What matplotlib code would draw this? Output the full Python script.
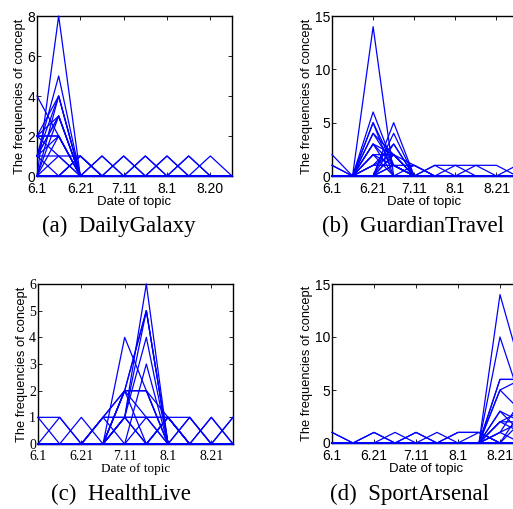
import matplotlib
matplotlib.use('Agg')
import matplotlib.pyplot as plt

SANS = 'Liberation Sans'
SERIF = 'Liberation Serif'
blue = '#0000ff'

tick_pos = [0, 2, 4, 6, 8]
labels_a = ['6.1', '6.21', '7.11', '8.1', '8.20']
labels_b = ['6.1', '6.21', '7.11', '8.1', '8.21']

# each row = one concept, frequency at 10 successive dates
galaxy = [
    [0, 8, 0, 0, 0, 0, 0, 0, 0, 0],
    [1, 5, 0, 0, 0, 0, 0, 0, 0, 0],
    [0, 4, 0, 0, 0, 0, 0, 0, 0, 0],
    [1, 4, 0, 0, 0, 0, 0, 0, 0, 0],
    [2, 4, 0, 0, 0, 0, 0, 0, 0, 0],
    [0, 3, 0, 0, 0, 0, 0, 0, 0, 0],
    [1, 3, 0, 0, 0, 0, 0, 0, 0, 0],
    [2, 3, 0, 0, 0, 0, 0, 0, 0, 0],
    [1, 3, 0, 0, 0, 0, 0, 0, 0, 0],
    [0, 2, 0, 0, 0, 0, 0, 0, 0, 0],
    [1, 2, 0, 0, 0, 0, 0, 0, 0, 0],
    [2, 2, 0, 0, 0, 0, 0, 0, 0, 0],
    [2, 2, 0, 0, 0, 0, 0, 0, 0, 0],
    [4, 2, 0, 0, 0, 0, 0, 0, 0, 0],
    [2, 1, 1, 0, 0, 0, 0, 0, 0, 0],
    [1, 1, 0, 0, 0, 0, 0, 0, 0, 0],
    [0, 1, 0, 0, 0, 0, 0, 0, 0, 0],
    [1, 0, 1, 0, 0, 0, 0, 0, 0, 0],
    [0, 0, 1, 0, 1, 0, 1, 0, 1, 0],
    [0, 0, 0, 1, 0, 1, 0, 1, 0, 0],
    [0, 0, 0, 1, 0, 1, 0, 1, 0, 0],
    [0, 0, 1, 0, 1, 0, 1, 0, 0, 0],
    [0, 0, 0, 0, 0, 0, 0, 0, 0, 0],
]

travel = [
    [2, 0, 0, 0, 0, 0, 0, 0, 0, 0],
    [1, 0, 0, 0, 0, 0, 0, 0, 0, 0],
    [1, 0, 0, 0, 0, 0, 0, 0, 0, 0],
    [0, 0, 14, 0, 0, 0, 0, 0, 0, 0],
    [0, 0, 6, 1, 0, 0, 0, 0, 0, 0],
    [0, 0, 5, 1, 0, 0, 0, 0, 0, 0],
    [0, 0, 5, 0, 0, 0, 0, 0, 0, 0],
    [0, 0, 4, 2, 0, 0, 0, 0, 0, 0],
    [0, 0, 4, 1, 0, 0, 0, 0, 0, 0],
    [0, 0, 3, 2, 0, 0, 0, 0, 0, 0],
    [0, 0, 3, 1, 0, 0, 0, 0, 0, 0],
    [0, 0, 3, 0, 0, 0, 0, 0, 0, 0],
    [0, 0, 2, 1, 0, 0, 0, 0, 0, 0],
    [0, 0, 2, 2, 0, 0, 0, 0, 0, 0],
    [0, 0, 2, 0, 0, 0, 0, 0, 0, 0],
    [0, 0, 1, 2, 0, 0, 0, 0, 0, 0],
    [0, 0, 1, 1, 0, 0, 0, 0, 0, 0],
    [0, 0, 0, 5, 0, 0, 0, 0, 0, 0],
    [0, 0, 0, 4, 0, 0, 0, 0, 0, 0],
    [0, 0, 0, 3, 0, 0, 0, 0, 0, 0],
    [0, 0, 1, 3, 0, 0, 0, 0, 0, 0],
    [0, 0, 0, 2, 0, 0, 0, 0, 0, 0],
    [0, 0, 0, 2, 1, 0, 0, 0, 0, 0],
    [0, 0, 0, 1, 1, 0, 0, 0, 0, 0],
    [0, 0, 0, 0, 1, 0, 1, 1, 0, 1],
    [0, 0, 0, 0, 0, 1, 0, 1, 1, 0],
    [0, 0, 0, 1, 0, 1, 1, 0, 0, 0],
    [0, 0, 0, 0, 0, 0, 0, 0, 0, 0],
]

health = [
    [1, 1, 0, 0, 0, 0, 0, 0, 0, 0],
    [1, 0, 1, 0, 0, 0, 0, 0, 0, 0],
    [0, 1, 0, 0, 0, 0, 0, 0, 0, 0],
    [0, 0, 0, 1, 0, 0, 0, 0, 0, 0],
    [0, 0, 0, 1, 1, 1, 1, 1, 0, 0],
    [0, 0, 0, 0, 4, 2, 0, 0, 0, 0],
    [0, 0, 0, 0, 1, 6, 0, 0, 0, 0],
    [0, 0, 0, 0, 1, 5, 0, 0, 0, 0],
    [0, 0, 0, 0, 2, 5, 0, 0, 0, 0],
    [0, 0, 0, 1, 2, 5, 0, 0, 0, 0],
    [0, 0, 0, 0, 1, 4, 0, 0, 0, 0],
    [0, 0, 0, 0, 0, 3, 0, 0, 0, 0],
    [0, 0, 0, 0, 2, 2, 0, 0, 0, 0],
    [0, 0, 0, 1, 2, 2, 0, 0, 0, 0],
    [0, 0, 0, 0, 2, 2, 1, 0, 0, 0],
    [0, 0, 0, 0, 2, 0, 0, 0, 0, 0],
    [0, 0, 0, 0, 2, 1, 0, 0, 0, 0],
    [0, 0, 0, 0, 1, 1, 0, 0, 0, 0],
    [0, 0, 0, 1, 1, 0, 1, 0, 0, 0],
    [0, 0, 0, 0, 1, 0, 1, 0, 0, 0],
    [0, 0, 0, 0, 0, 1, 1, 0, 0, 0],
    [0, 0, 0, 0, 0, 0, 1, 0, 1, 0],
    [0, 0, 0, 0, 0, 0, 1, 0, 1, 0],
    [0, 0, 0, 0, 0, 0, 0, 1, 0, 1],
    [0, 0, 0, 0, 0, 0, 0, 1, 0, 1],
    [0, 0, 0, 0, 0, 0, 0, 0, 0, 0],
]

arsenal = [
    [1, 0, 0, 0, 0, 0, 0, 0, 0, 0],
    [1, 0, 0, 0, 0, 0, 0, 0, 0, 0],
    [0, 0, 1, 0, 1, 0, 1, 1, 0, 0],
    [0, 0, 1, 0, 1, 0, 1, 1, 0, 0],
    [0, 0, 0, 1, 0, 1, 0, 1, 0, 0],
    [0, 0, 0, 0, 0, 0, 0, 0, 14, 7],
    [0, 0, 0, 0, 0, 0, 0, 0, 10, 4],
    [0, 0, 0, 0, 0, 0, 0, 0, 6, 6],
    [0, 0, 0, 0, 0, 0, 0, 0, 6, 6],
    [0, 0, 0, 0, 0, 0, 0, 0, 5, 6],
    [0, 0, 0, 0, 0, 0, 0, 0, 5, 3],
    [0, 0, 0, 0, 0, 0, 0, 0, 3, 1],
    [0, 0, 0, 0, 0, 0, 0, 0, 3, 2],
    [0, 0, 0, 0, 0, 0, 0, 0, 2, 3],
    [0, 0, 0, 0, 0, 0, 0, 0, 2, 1],
    [0, 0, 0, 0, 0, 0, 0, 0, 2, 2],
    [0, 0, 0, 0, 0, 0, 0, 0, 1, 2],
    [0, 0, 0, 0, 0, 0, 0, 0, 1, 0],
    [0, 0, 0, 0, 0, 0, 0, 0, 1, 4],
    [0, 0, 0, 0, 0, 0, 0, 0, 0, 3],
    [0, 0, 0, 0, 0, 0, 0, 0, 0, 2],
    [0, 0, 0, 0, 0, 0, 0, 0, 0, 0],
]

panels = [
    (galaxy, 8, [0, 2, 4, 6, 8], labels_a, SANS, '(a)  DailyGalaxy',
     [37/513, 1-176/509, 195/513, 160/509], (119/513, 1-226/509)),
    (travel, 15, [0, 5, 10, 15], labels_b, SANS, '(b)  GuardianTravel',
     [332/513, 1-176/509, 185/513, 160/509], (413/513, 1-226/509)),
    (health, 6, [0, 1, 2, 3, 4, 5, 6], labels_b, SERIF, '(c)  HealthLive',
     [38/513, 1-444/509, 195/513, 160/509], (121/513, 1-494/509)),
    (arsenal, 15, [0, 5, 10, 15], labels_b, SANS, '(d)  SportArsenal',
     [332/513, 1-443/509, 189/513, 159/509], (409/513, 1-494/509)),
]

fig = plt.figure(figsize=(5.13, 5.09), dpi=100)

for rows, ymax, yticks, xlabels, font, caption, pos, cap_xy in panels:
    ax = fig.add_axes(pos)
    for r in rows:
        ax.plot(range(len(r)), r, color=blue, lw=0.9, clip_on=False, zorder=3)
    ax.set_xlim(0, 9)
    ax.set_ylim(0, ymax)
    ax.set_xticks(tick_pos)
    ax.set_xticklabels(xlabels, family=font, fontsize=10)
    ax.set_yticks(yticks)
    ax.set_yticklabels([str(v) for v in yticks], family=font, fontsize=10)
    ax.tick_params(axis='x', pad=4)
    ax.tick_params(axis='y', pad=1.5)
    ax.tick_params(direction='in', top=True, right=True, length=3, width=0.6)
    for s in ax.spines.values():
        s.set_linewidth(1.0)
    ax.set_xlabel('Date of topic', family=font, fontsize=9.5, labelpad=0.5)
    ax.set_ylabel('The frequencies of concept', family=SANS, fontsize=9.3, labelpad=1)
    fig.text(cap_xy[0], cap_xy[1], caption, family=SERIF, fontsize=16.5,
             ha='center', va='center')

fig.savefig('out.png', dpi=100)
